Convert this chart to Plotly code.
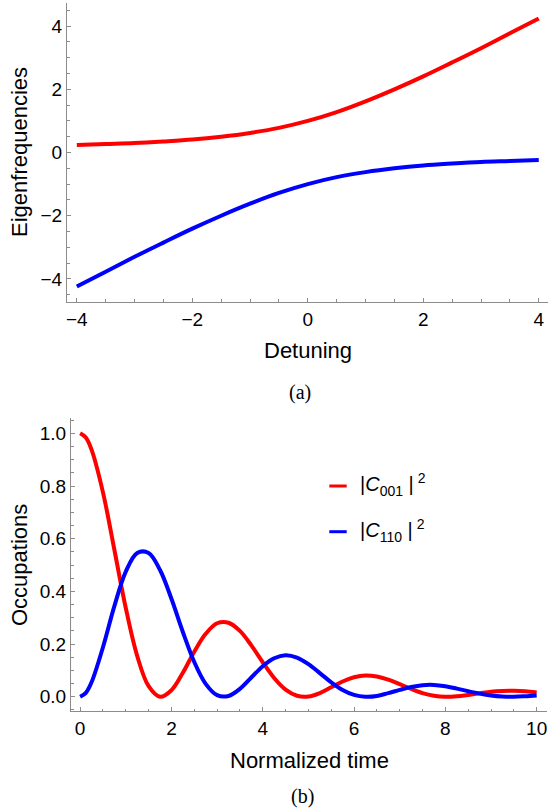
import plotly.graph_objects as go

W, H = 549, 811

# ---------------- data ----------------
detuning = [-4.0, -3.5, -3.0, -2.5, -2.0, -1.5, -1.0, -0.5, 0.0,
            0.5, 1.0, 1.5, 2.0, 2.5, 3.0, 3.5, 4.0]
eig_upper = [0.24, 0.27, 0.30, 0.35, 0.41, 0.50, 0.62, 0.78, 1.00,
             1.28, 1.62, 2.00, 2.41, 2.85, 3.30, 3.77, 4.24]
eig_lower = [-4.24, -3.77, -3.30, -2.85, -2.41, -2.00, -1.62, -1.28, -1.00,
             -0.78, -0.62, -0.50, -0.41, -0.35, -0.30, -0.27, -0.24]

time = [0.0, 0.125, 0.25, 0.5, 0.75, 1.0, 1.25, 1.5, 1.75, 2.0, 2.25, 2.5, 2.75,
        3.0, 3.25, 3.5, 3.75, 4.0, 4.25, 4.5, 4.75, 5.0, 5.25, 5.5, 5.75,
        6.0, 6.25, 6.5, 6.75, 7.0, 7.25, 7.5, 7.75, 8.0, 8.25, 8.5, 8.75,
        9.0, 9.25, 9.5, 9.75, 10.0]
occ_001 = [1.000, 0.984, 0.938, 0.776, 0.558, 0.337, 0.155, 0.040, 0.000, 0.025,
           0.091, 0.171, 0.239, 0.279, 0.281, 0.250, 0.195, 0.131, 0.071,
           0.027, 0.004, 0.001, 0.014, 0.036, 0.058, 0.074, 0.081, 0.077,
           0.065, 0.048, 0.030, 0.014, 0.004, 0.000, 0.002, 0.007, 0.013,
           0.019, 0.022, 0.023, 0.021, 0.016]
occ_110 = [0.000, 0.015, 0.055, 0.188, 0.344, 0.475, 0.546, 0.546, 0.481, 0.372,
           0.246, 0.132, 0.049, 0.006, 0.003, 0.030, 0.073, 0.116, 0.146,
           0.158, 0.149, 0.124, 0.090, 0.055, 0.026, 0.007, 0.000, 0.003,
           0.014, 0.026, 0.037, 0.044, 0.045, 0.040, 0.031, 0.021, 0.012,
           0.005, 0.001, 0.000, 0.002, 0.005]

series_names = ["|<i>C</i><sub>001</sub> |<sup> 2</sup>",
                "|<i>C</i><sub>110</sub> |<sup> 2</sup>"]

# ---------------- style ----------------
RED, BLUE = "#ff0000", "#0000ff"
GRAY = "#8c8c8c"
FONT = "Liberation Sans, Arial, sans-serif"
SERIF = "Liberation Serif, Times New Roman, serif"
TICK = dict(size=19, color="black", family=FONT)


def px(x):
    return x / W


def py(y):
    return 1 - y / H


fig = go.Figure()
fig.add_trace(go.Scatter(x=detuning, y=eig_upper, mode="lines",
                         line=dict(color=RED, width=4, shape="spline"),
                         xaxis="x", yaxis="y", showlegend=False, hoverinfo="skip"))
fig.add_trace(go.Scatter(x=detuning, y=eig_lower, mode="lines",
                         line=dict(color=BLUE, width=4, shape="spline"),
                         xaxis="x", yaxis="y", showlegend=False, hoverinfo="skip"))
fig.add_trace(go.Scatter(x=time, y=occ_001, mode="lines", name=series_names[0],
                         line=dict(color=RED, width=4, shape="spline"),
                         xaxis="x2", yaxis="y2", showlegend=False, hoverinfo="skip"))
fig.add_trace(go.Scatter(x=time, y=occ_110, mode="lines", name=series_names[1],
                         line=dict(color=BLUE, width=4, shape="spline"),
                         xaxis="x2", yaxis="y2", showlegend=False, hoverinfo="skip"))


def axis(domain, rng, dtick, minor, anchor, fmt=None):
    d = dict(domain=domain, range=rng, anchor=anchor, showline=True,
             linecolor=GRAY, linewidth=1, ticks="inside", ticklen=4,
             tickwidth=1, tickcolor=GRAY, tick0=0, dtick=dtick,
             minor=dict(dtick=minor, tick0=0, ticks="inside", ticklen=2.5,
                        tickwidth=1, tickcolor=GRAY, showgrid=False),
             showgrid=False, zeroline=False, tickfont=TICK, fixedrange=True,
             automargin=False)
    if fmt:
        d["tickformat"] = fmt
    return d


fig.update_layout(
    width=W, height=H, margin=dict(l=0, r=0, t=0, b=0, autoexpand=False),
    paper_bgcolor="white", plot_bgcolor="white",
    font=dict(family=FONT, color="black"),
    xaxis=axis([px(67), px(548)], [-4.17, 4.16], 2, 0.5, "y"),
    yaxis=axis([py(301.7), py(3)], [-4.72, 4.73], 2, 0.5, "x"),
    xaxis2=axis([px(71), px(546.7)], [-0.2, 10.22], 2, 0.5, "y2"),
    yaxis2=axis([py(711), py(418.3)], [-0.054, 1.057], 0.2, 0.05, "x2", ".1f"),
)


def label(text, x, y, size=22, family=FONT, angle=0, xanchor="center"):
    return dict(text=text, x=px(x), y=py(y), xref="paper", yref="paper",
                xanchor=xanchor, yanchor="middle", textangle=angle,
                showarrow=False, font=dict(size=size, family=family, color="black"))


ann = [
    label("Eigenfrequencies", 19, 152, angle=-90),
    label("Detuning", 307.5, 350),
    label("Occupations", 19, 565, angle=-90),
    label("Normalized time", 309, 760),
    label("(a)", 300, 392, size=20, family=SERIF),
    label("(b)", 302.5, 796, size=20, family=SERIF),
]
for name, yy in zip(series_names, [486, 531.7]):
    ann.append(label(name, 358, yy - 1, size=20, xanchor="left"))

shapes = []
for col, yy in zip([RED, BLUE], [486, 531.7]):
    shapes.append(dict(type="line", xref="paper", yref="paper",
                       x0=px(329.3), x1=px(346.7), y0=py(yy), y1=py(yy),
                       line=dict(color=col, width=3)))

fig.update_layout(annotations=ann, shapes=shapes)
fig.write_html("out.html", config={"displayModeBar": False},
               post_script="document.body.style.margin='0';document.body.style.overflow='hidden';")
